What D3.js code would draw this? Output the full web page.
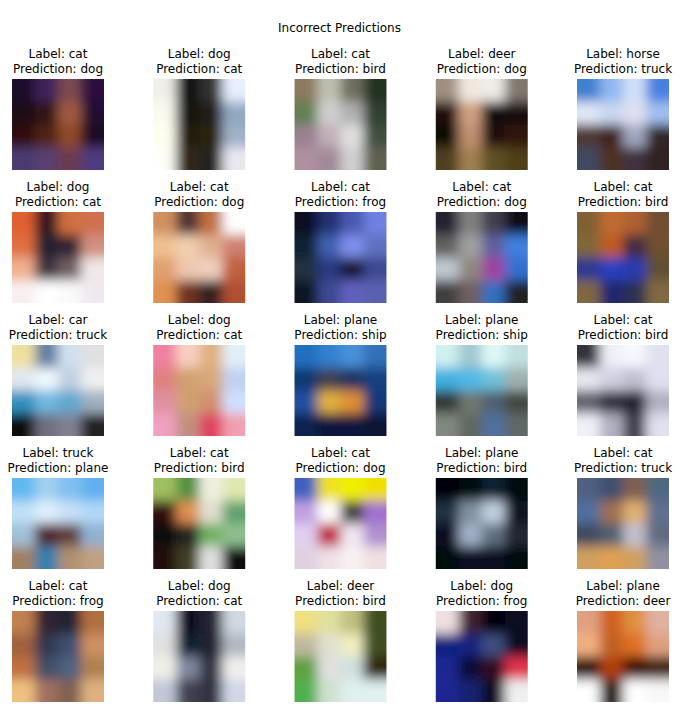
<!DOCTYPE html>
<html>
<head>
<meta charset="utf-8">
<script src="https://cdn.jsdelivr.net/npm/d3@7"></script>
<style>
  body { margin: 0; background: #fff; }
  text { font-family: "DejaVu Sans", sans-serif; font-size: 12px; fill: #000; }
</style>
</head>
<body>
<div id="chart"></div>
<script>
// true class / predicted class for each panel, row by row
const trueLabels = [
  "cat", "dog", "cat", "deer", "horse",
  "dog", "cat", "cat", "cat", "cat",
  "car", "dog", "plane", "plane", "cat",
  "truck", "cat", "cat", "plane", "cat",
  "cat", "dog", "deer", "dog", "plane"
];
const predLabels = [
  "dog", "cat", "bird", "dog", "truck",
  "cat", "dog", "frog", "dog", "bird",
  "truck", "cat", "ship", "ship", "bird",
  "plane", "bird", "dog", "bird", "truck",
  "frog", "cat", "bird", "frog", "deer"
];

// coarse 4x4 colour mosaic of each image (row-major, top to bottom)
const pixels = [
  ["#1e0a2a","#40205a","#7a4a50","#2a1040", "#1a0818","#301818","#a05a40","#200a30", "#301010","#502018","#904828","#1a0820", "#4a3a70","#5a4070","#6a3a50","#503a80"],
  ["#f0f0e8","#101010","#303030","#e8f0ff", "#fafaf0","#181410","#201a18","#90a8c0", "#fffff0","#201a10","#2a2010","#a0b0c8", "#fffff8","#302818","#202020","#e8e8f0"],
  ["#8a7a60","#c0c0b0","#707060","#203020", "#608050","#d0d0d0","#b0b0b0","#304030", "#9a8090","#c0b0b8","#e0e0e0","#405040", "#b090a0","#a08898","#d0d0d0","#606050"],
  ["#a09080","#f0e8e0","#f0ece8","#807870", "#201008","#d0a080","#100808","#180c08", "#100800","#c09070","#201008","#301808", "#504020","#a08050","#605028","#504018"],
  ["#4080d0","#90b8f0","#d0e0f8","#4a80e0", "#e0e8f8","#c8d8f0","#e0e0f0","#a0c0f0", "#503830","#402020","#a0a8c0","#302828", "#404860","#503020","#403040","#302020"],

  ["#e06030","#301820","#d07040","#d07050", "#e07040","#202030","#302030","#d09080", "#f0b090","#403040","#706060","#f0e8e8", "#f8f0f0","#ffffff","#fafafa","#f0e8f0"],
  ["#d09060","#503030","#c07040","#ffffff", "#f0c090","#f0d0b0","#e0b090","#d08070", "#e0a070","#f0c8b0","#f0d0c0","#c06040", "#e09050","#703020","#302020","#b05030"],
  ["#081020","#203070","#4858b0","#7080e0", "#102030","#4060b0","#8090f0","#6070c0", "#203040","#2a3880","#181830","#3a4890", "#101820","#3a4890","#6060c0","#5a60b0"],
  ["#202030","#808080","#404050","#101018", "#606060","#a0a0a0","#6060a0","#4080e0", "#c0c8d0","#908880","#a040a0","#3070d0", "#404040","#706060","#3070c0","#202020"],
  ["#806030","#c06a30","#b06030","#705030", "#806838","#c05a20","#402a40","#705030", "#2a3890","#2840c0","#2a3ab0","#605030", "#806840","#202870","#2a3050","#806840"],

  ["#f0e0a0","#6080a0","#d0e0f0","#e0e0e0", "#e0e8f0","#f0f8ff","#c0d0e0","#f0f0f0", "#3090c0","#70b8e0","#60a8d0","#a0b0c0", "#101010","#707080","#808090","#202020"],
  ["#f080a0","#f8d0c0","#e0b080","#e0f0f8", "#e08080","#d0a070","#d8a878","#c0d0f0", "#e090a0","#d0a070","#d09070","#d0e0ff", "#f0a0c0","#c09080","#e04060","#f0a0b0"],
  ["#2070c0","#3080d0","#4a90d8","#3070b8", "#103870","#404050","#203060","#184080", "#2050a0","#e0b040","#e09030","#183878", "#102050","#0a1840","#0a1840","#081430"],
  ["#d0f0f0","#a0c8d0","#e0f8f8","#c0e0e0", "#40b0e0","#50b8e8","#70c0d8","#a0b0b0", "#303830","#707870","#506070","#404840", "#808880","#606860","#5070a0","#606868"],
  ["#303040","#f0f0f8","#f8f8ff","#e0e0f0", "#e8e8f0","#d0d0e0","#c0c0d0","#e0e0f0", "#606070","#303040","#202030","#b0b0c0", "#f0f0f8","#b0b0c0","#404050","#e0e0f0"],

  ["#60b8f0","#a0d0f0","#80c0f0","#60b0f0", "#c0e0f8","#e0f0ff","#c8e0f8","#b0d8f8", "#a0c0d8","#502020","#604040","#90b0d0", "#a08060","#3080b0","#b09070","#c0a080"],
  ["#a0c060","#509040","#f0f0e0","#e0e8b0", "#301010","#e09050","#e0e0d0","#60a070", "#101010","#202020","#70b060","#90c090", "#201010","#404020","#e0e0e0","#101010"],
  ["#4060c0","#f0e020","#f0f000","#f0e000", "#c0a0e0","#ffffff","#404040","#a070d0", "#e0d0f0","#c02040","#f0e8f0","#b090d0", "#e0d0e0","#f0e0e8","#f8f0f0","#f0e0e0"],
  ["#000008","#000810","#102030","#000810", "#203040","#8090a0","#c0d0e0","#101820", "#081020","#a0b0c8","#607080","#202830", "#000810","#081020","#081020","#000810"],
  ["#506080","#405070","#806050","#506880", "#5070a0","#a07050","#e0b070","#607090", "#404a60","#506070","#c0c0d0","#606a80", "#d0a060","#e0a050","#d0a060","#9090a0"],

  ["#c08050","#302030","#202030","#b07040", "#a06040","#303850","#405070","#d09060", "#c07040","#405068","#506080","#b08050", "#f0c080","#a07060","#806050","#e0b080"],
  ["#e0e8f0","#101020","#202030","#d0d8e0", "#e0e0e0","#102030","#202030","#b0b8c0", "#f0f0e8","#8088a0","#303040","#f0f0f0", "#c0c8d8","#404050","#303040","#d0d8e8"],
  ["#f0e080","#e0e0a0","#c0c080","#405020", "#c0b8a0","#e0e0d0","#f0f0c0","#405020", "#60a040","#e0e0e0","#d0e0e0","#302810", "#50b050","#d0e0d0","#e0f0f0","#e0f0f0"],
  ["#f0e0e0","#402030","#000008","#101020", "#102080","#182080","#405080","#101020", "#1a2890","#0a0a30","#301020","#e03050", "#1a2890","#182070","#0a0a20","#f0f0f0"],
  ["#e0a080","#d06020","#e09040","#e0b0a0", "#f0b080","#c06020","#e07020","#e0a080", "#301000","#b04010","#401000","#402010", "#ffffff","#201000","#ffffff","#f8f8f8"]
];

const width = 679;
const height = 709;
const nCols = 5;
const grid = 4;

const svg = d3.select("#chart").append("svg")
  .attr("width", width)
  .attr("height", height);

const x = d3.scaleBand().domain(d3.range(nCols)).range([12, 669]).paddingInner(0.349);
const y = d3.scaleBand().domain(d3.range(5)).range([79, 702]).paddingInner(0.316);
const w = x.bandwidth();
const h = y.bandwidth();
const cx = d3.scaleBand().domain(d3.range(grid)).range([0, w]);
const cy = d3.scaleBand().domain(d3.range(grid)).range([0, h]);
const pad = 12; // edge cells run past the frame so the blur doesn't fade out

const defs = svg.append("defs");
defs.append("filter")
  .attr("id", "soft")
  .attr("x", "-30%").attr("y", "-30%")
  .attr("width", "160%").attr("height", "160%")
  .append("feGaussianBlur")
  .attr("stdDeviation", 6);

svg.append("text")
  .attr("x", width / 2)
  .attr("y", 32)
  .attr("text-anchor", "middle")
  .text("Incorrect Predictions");

const panels = svg.selectAll(".panel")
  .data(pixels.map((p, i) => ({ p, i, label: trueLabels[i], pred: predLabels[i] })))
  .join("g")
  .attr("class", "panel")
  .attr("transform", d => `translate(${x(d.i % nCols)},${y(Math.floor(d.i / nCols))})`);

panels.append("clipPath")
  .attr("id", d => "clip" + d.i)
  .append("rect")
  .attr("width", w)
  .attr("height", h);

panels.append("g")
  .attr("clip-path", d => `url(#clip${d.i})`)
  .append("g")
  .attr("filter", "url(#soft)")
  .selectAll("rect")
  .data(d => d.p.map((c, k) => ({ c, r: Math.floor(k / grid), k: k % grid })))
  .join("rect")
  .attr("x", d => cx(d.k) - (d.k === 0 ? pad : 0))
  .attr("y", d => cy(d.r) - (d.r === 0 ? pad : 0))
  .attr("width", d => cx.bandwidth() + 0.5 + (d.k === 0 || d.k === grid - 1 ? pad : 0))
  .attr("height", d => cy.bandwidth() + 0.5 + (d.r === 0 || d.r === grid - 1 ? pad : 0))
  .attr("fill", d => d.c);

panels.append("text")
  .attr("x", w / 2)
  .attr("y", -21)
  .attr("text-anchor", "middle")
  .text(d => "Label: " + d.label);

panels.append("text")
  .attr("x", w / 2)
  .attr("y", -6)
  .attr("text-anchor", "middle")
  .text(d => "Prediction: " + d.pred);
</script>
</body>
</html>
